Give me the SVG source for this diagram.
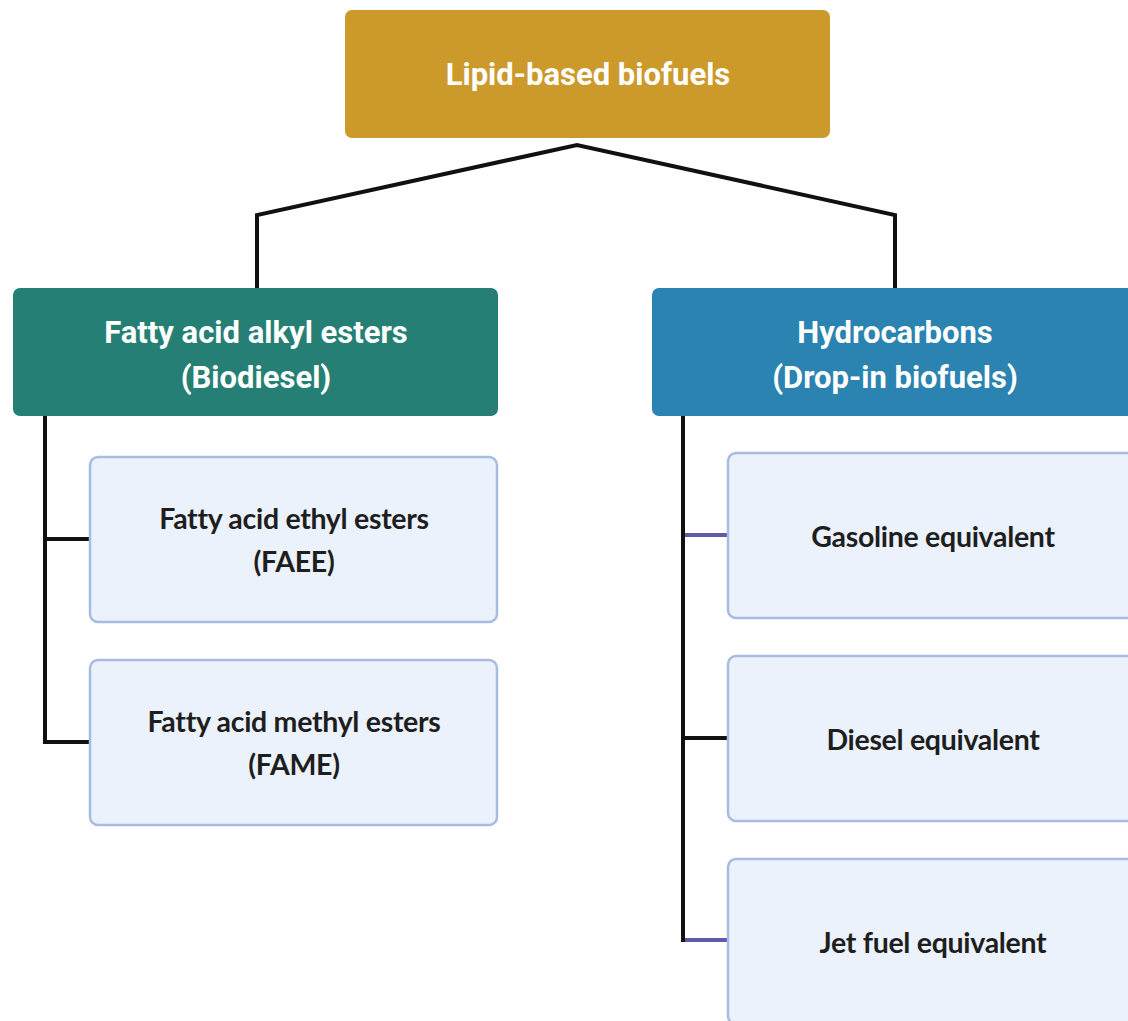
<svg xmlns="http://www.w3.org/2000/svg" width="1128" height="1021" viewBox="0 0 1128 1021">
<style>
.hdr{font-family:Roboto,"Liberation Sans",sans-serif;font-weight:bold;font-size:31px;fill:#FFFFFF;text-anchor:middle}
.leaf{fill:#EBF2FB;stroke:#A8BBE0;stroke-width:2.5}
.lt{font-family:Lato,"Liberation Sans",sans-serif;font-weight:bold;font-size:28.5px;fill:#1E1E1E;text-anchor:middle;letter-spacing:-0.3px}
.ln{fill:none;stroke:#111111;stroke-width:4}
.lp{fill:none;stroke:#5D5CA8;stroke-width:4}
</style>
<rect width="1128" height="1021" fill="#FFFFFF"/>
<g id="connectors">
<polyline class="ln" points="257,290 257,215 577,145 895,215 895,290"/>
<polyline class="ln" points="45,416 45,742 90,742"/>
<line class="ln" x1="45" y1="539" x2="90" y2="539"/>
<polyline class="ln" points="683,416 683,940 686,940"/>
<line class="lp" x1="685" y1="535" x2="728" y2="535"/>
<line class="ln" x1="683" y1="738" x2="728" y2="738"/>
<line class="lp" x1="685" y1="940" x2="728" y2="940"/>
</g>
<g id="root">
<rect x="345" y="10" width="485" height="128" rx="7" fill="#CC9A2B"/>
<text class="hdr" x="588" y="85">Lipid-based biofuels</text>
</g>
<g id="biodiesel">
<rect x="13" y="288" width="485" height="128" rx="7" fill="#267F74"/>
<text class="hdr" x="256" y="343">Fatty acid alkyl esters</text>
<text class="hdr" x="256" y="388">(Biodiesel)</text>
</g>
<g id="hydrocarbons">
<rect x="652" y="288" width="485" height="128" rx="7" fill="#2A83B0"/>
<text class="hdr" x="895" y="343">Hydrocarbons</text>
<text class="hdr" x="895" y="388">(Drop-in biofuels)</text>
</g>
<g id="faee">
<rect class="leaf" x="90" y="457" width="407" height="165" rx="8"/>
<text class="lt" x="294" y="529">Fatty acid ethyl esters</text>
<text class="lt" x="294" y="572">(FAEE)</text>
</g>
<g id="fame">
<rect class="leaf" x="90" y="660" width="407" height="165" rx="8"/>
<text class="lt" x="294" y="732">Fatty acid methyl esters</text>
<text class="lt" x="294" y="775">(FAME)</text>
</g>
<g id="gasoline">
<rect class="leaf" x="728" y="453" width="407" height="165" rx="8"/>
<text class="lt" x="933" y="547">Gasoline equivalent</text>
</g>
<g id="diesel">
<rect class="leaf" x="728" y="656" width="407" height="165" rx="8"/>
<text class="lt" x="933" y="750">Diesel equivalent</text>
</g>
<g id="jet">
<rect class="leaf" x="728" y="859" width="407" height="165" rx="8"/>
<text class="lt" x="933" y="953">Jet fuel equivalent</text>
</g>
</svg>
